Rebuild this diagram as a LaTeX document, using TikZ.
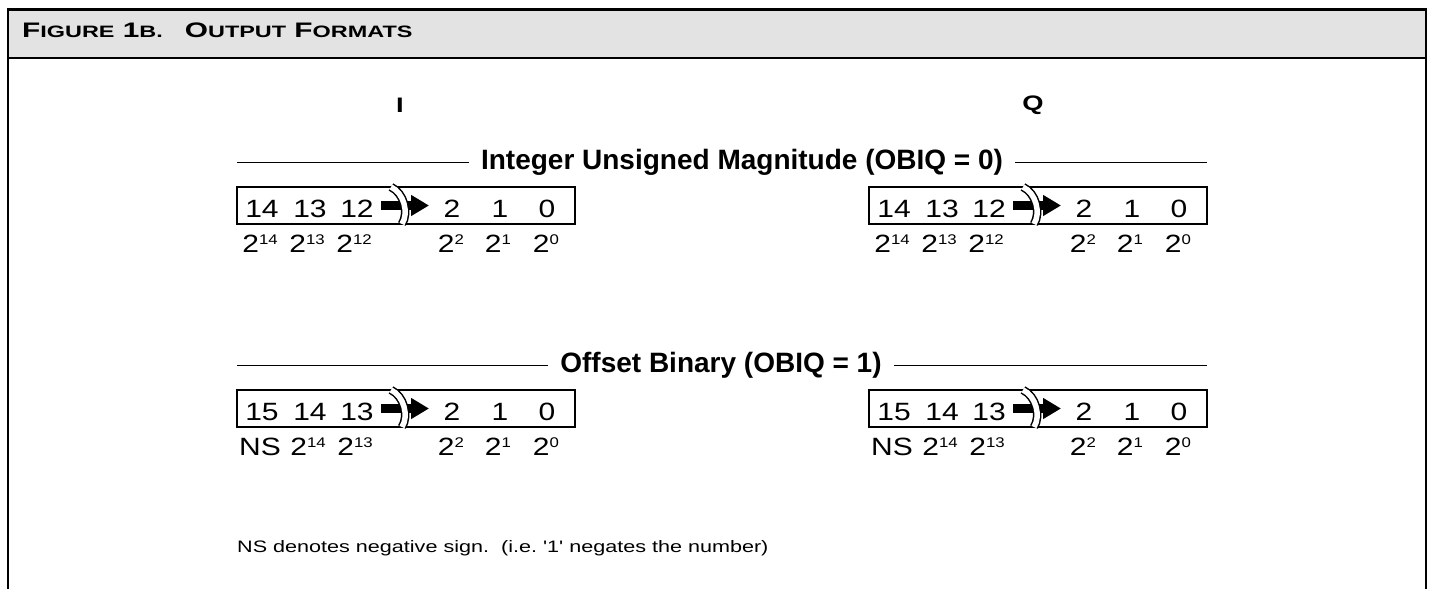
\documentclass[tikz,border=0pt]{standalone}
\usepackage{fontspec}
\setmainfont{Liberation Sans}
\newfontfamily\stretchfam[FakeStretch=1.2,Ligatures=TeXOff]{Liberation Sans}
\newfontfamily\notefam[FakeStretch=1.3,Ligatures=TeXOff]{Liberation Sans}
\newfontfamily\titlefam[FakeStretch=1.42]{Liberation Sans}
\usetikzlibrary{arrows.meta}
\newcommand{\bitfont}{\stretchfam\fontsize{25}{25}\selectfont}
\newcommand{\supfont}{\stretchfam\fontsize{14}{14}\selectfont}
\newcommand{\pw}[1]{2\raisebox{8pt}{\supfont #1}}
\newcommand{\smcap}[1]{{\fontsize{16.5}{16.5}\selectfont #1}}
\tikzstyle{bit}=[inner sep=0pt, anchor=base, font=\bitfont]
\tikzstyle{wt}=[inner sep=0pt, anchor=base, font=\bitfont]
\tikzstyle{regbox}=[line width=2pt]
\tikzstyle{breakmark}=[line width=1.5pt, double=white, double distance=5.5pt]
\tikzstyle{blockarrow}=[line width=9pt, -{Triangle[length=18pt,width=20pt]}]
\tikzstyle{secline}=[line width=1pt]
\tikzstyle{sechead}=[fill=white, inner xsep=12pt, inner ysep=2pt, font=\fontsize{28}{28}\selectfont\bfseries]
\tikzstyle{colhead}=[inner sep=0pt, font=\notefam\fontsize{21}{21}\selectfont\bfseries]
\newcommand{\bit}{\node[bit]}
\newcommand{\wt}{\node[wt]}
\newcommand{\regframe}[3]{
  \begin{scope}[shift={(#2,#3)}]
  \draw[regbox] (237,187) rectangle (575,224);
  \coordinate (#1s) at (381,205.5);
  \coordinate (#1e) at (429,205.5);
  \draw[blockarrow] (#1s) -- (#1e);
  \draw[breakmark] (391,187) .. controls (404,193) and (409,213) .. (402,224);
  \end{scope}}

\begin{document}
\begin{tikzpicture}[x=1pt, y=-1pt]
\useasboundingbox (0,0) rectangle (1430,589);
\fill[black!11] (8,9.5) rectangle (1426,58);
\draw[line width=2.5pt] (8,589) -- (8,9.5) -- (1426,9.5) -- (1426,589);
\draw[line width=2.5pt] (8,58) -- (1426,58);
\node[anchor=base west, inner sep=0pt, font=\titlefam\fontsize{21}{21}\selectfont\bfseries] (title) at (22,37)
  {F\smcap{IGURE} 1\smcap{B.}\hspace{22pt}O\smcap{UTPUT} F\smcap{ORMATS}};
\node[colhead] (colI) at (400,105) {I};
\node[colhead] (colQ) at (1033,105) {Q};
\node[sechead] (sec1) at (742,162) {Integer Unsigned Magnitude (OBIQ = 0)};
\node[sechead] (sec2) at (721,365) {Offset Binary (OBIQ = 1)};
\coordinate (s1l) at (237,162);
\coordinate (s1r) at (1207,162);
\coordinate (s2l) at (237,365);
\coordinate (s2r) at (1207,365);
\draw[secline] (s1l) -- (sec1) (sec1) -- (s1r);
\draw[secline] (s2l) -- (sec2) (sec2) -- (s2r);
\regframe{ia}{0}{0}
\regframe{qa}{632}{0}
\regframe{ib}{0}{203}
\regframe{qb}{632}{203}
\bit (ia14) at (262,217) {14};
\bit (ia13) at (310,217) {13};
\bit (ia12) at (357,217) {12};
\bit (ia2) at (452,217) {2};
\bit (ia1) at (500,217) {1};
\bit (ia0) at (547,217) {0};
\wt (iaw14) at (260,252) {\pw{14}};
\wt (iaw13) at (307,252) {\pw{13}};
\wt (iaw12) at (354,252) {\pw{12}};
\wt (iaw2) at (451,252) {\pw{2}};
\wt (iaw1) at (498,252) {\pw{1}};
\wt (iaw0) at (546,252) {\pw{0}};
\bit (qa14) at (894,217) {14};
\bit (qa13) at (942,217) {13};
\bit (qa12) at (989,217) {12};
\bit (qa2) at (1084,217) {2};
\bit (qa1) at (1132,217) {1};
\bit (qa0) at (1179,217) {0};
\wt (qaw14) at (892,252) {\pw{14}};
\wt (qaw13) at (939,252) {\pw{13}};
\wt (qaw12) at (986,252) {\pw{12}};
\wt (qaw2) at (1083,252) {\pw{2}};
\wt (qaw1) at (1130,252) {\pw{1}};
\wt (qaw0) at (1178,252) {\pw{0}};
\bit (ib15) at (262,420) {15};
\bit (ib14) at (310,420) {14};
\bit (ib13) at (357,420) {13};
\bit (ib2) at (452,420) {2};
\bit (ib1) at (500,420) {1};
\bit (ib0) at (547,420) {0};
\wt (ibns) at (260,455) {NS};
\wt (ibw14) at (308,455) {\pw{14}};
\wt (ibw13) at (355,455) {\pw{13}};
\wt (ibw2) at (451,455) {\pw{2}};
\wt (ibw1) at (498,455) {\pw{1}};
\wt (ibw0) at (546,455) {\pw{0}};
\bit (qb15) at (894,420) {15};
\bit (qb14) at (942,420) {14};
\bit (qb13) at (989,420) {13};
\bit (qb2) at (1084,420) {2};
\bit (qb1) at (1132,420) {1};
\bit (qb0) at (1179,420) {0};
\wt (qbns) at (892,455) {NS};
\wt (qbw14) at (940,455) {\pw{14}};
\wt (qbw13) at (987,455) {\pw{13}};
\wt (qbw2) at (1083,455) {\pw{2}};
\wt (qbw1) at (1130,455) {\pw{1}};
\wt (qbw0) at (1178,455) {\pw{0}};
\node[anchor=base west, inner sep=0pt, font=\notefam\fontsize{16.6}{16.6}\selectfont] (note) at (237,552)
  {NS denotes negative sign.\ \ (i.e.\ '1' negates the number)};
\end{tikzpicture}
\end{document}
